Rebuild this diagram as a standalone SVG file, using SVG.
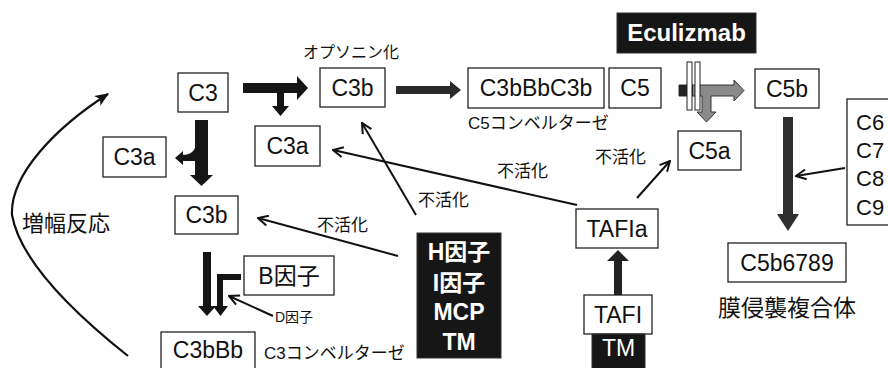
<svg xmlns="http://www.w3.org/2000/svg" width="888" height="368" viewBox="0 0 888 368">
<style>
text{font-family:"Liberation Sans","Noto Sans CJK JP",sans-serif;fill:#111}
.box{fill:#fff;stroke:#222;stroke-width:1.3}
.dark{fill:#161616;stroke:#333;stroke-width:1}
.bt{font-size:23px;text-anchor:middle}
.wb{font-size:23px;font-weight:bold;fill:#fff;text-anchor:middle}
.lab{font-size:17px}
.thin{fill:none;stroke:#111;stroke-width:2;marker-end:url(#v)}
.fat{fill:#151515}
</style>
<defs>
<marker id="v" viewBox="0 0 12 12" refX="11" refY="6" markerWidth="12" markerHeight="12" markerUnits="userSpaceOnUse" orient="auto">
<path d="M1,1 L11,6 L1,11" fill="none" stroke="#111" stroke-width="2"/>
</marker>
<marker id="h" viewBox="0 0 12 10" refX="11" refY="5" markerWidth="14" markerHeight="12" markerUnits="userSpaceOnUse" orient="auto">
<path d="M0,0 L12,5 L0,10 L3,5 Z" fill="#111"/>
</marker>
</defs>

<g id="connectors">
<path d="M128,356 C70,310 20,260 12,215 C10,175 55,128 108,94" fill="none" stroke="#111" stroke-width="2.2" marker-end="url(#h)"/>
<polygon class="fat" points="243,83 297,83 297,76 308,88 297,100 297,93 284,93 284,106 289,106 280.5,116 272,106 277,106 277,93 243,93"/>
<path class="fat" d="M195,120 L208,120 L208,175 L213,175 L201.5,186 L190,175 L195,175 L195,161 L183,161 L183,165 L175,158 L183,151 L183,155 Q192,155 195,148 Z"/>
<polygon fill="#2a2a2a" points="396,86 450,86 450,81 461,90 450,99 450,94 396,94"/>
<polygon fill="#8a8a8a" stroke="#333" stroke-width="1" points="679,85 734,85 734,80 744,90.5 734,101 734,96 711,96 711,112 716,112 706.5,122 697,112 702,112 702,96 679,96"/>
<rect x="679" y="85" width="14" height="11" fill="#222"/>
<rect x="687" y="62" width="5" height="48" fill="#fff" stroke="#222" stroke-width="1"/>
<rect x="695" y="62" width="5" height="48" fill="#fff" stroke="#222" stroke-width="1"/>
<polygon fill="#2e2e2e" points="783,117 793,117 793,214 799,214 788,231 777,214 783,214"/>
<polygon fill="#222" points="614,296 622,296 622,261 629,261 618,250 607,261 614,261"/>
<polygon class="fat" points="203,252 211,252 211,306 216,306 207,316 198,306 203,306"/>
<polygon class="fat" points="241,274 241,280 223,280 223,306 228,306 220.5,316 213,306 217,306 217,274"/>
<line class="thin" x1="577" y1="205" x2="333" y2="150"/>
<line class="thin" x1="637" y1="198" x2="670" y2="161"/>
<line class="thin" x1="416" y1="215" x2="362" y2="123"/>
<line class="thin" x1="398" y1="256" x2="258" y2="218"/>
<line class="thin" x1="273" y1="316" x2="229" y2="296"/>
<line class="thin" x1="845" y1="168" x2="796" y2="176"/>
</g>

<g id="labels">
<text class="lab" x="303" y="58" style="font-size:16px">オプソニン化</text>
<text class="lab" x="468" y="129">C5コンベルターゼ</text>
<text class="lab" x="264" y="359">C3コンベルターゼ</text>
<text x="275" y="322" style="font-size:14px">D因子</text>
<text class="lab" x="497" y="177">不活化</text>
<text class="lab" x="595" y="163">不活化</text>
<text class="lab" x="418" y="206">不活化</text>
<text class="lab" x="317" y="231">不活化</text>
<text x="22" y="231" style="font-size:22px">増幅反応</text>
<text x="718" y="316" style="font-size:23px">膜侵襲複合体</text>
</g>

<g id="n-eculizmab"><rect class="dark" x="617" y="13" width="139" height="40"/><text class="wb" x="686.5" y="41" style="font-size:24px">Eculizmab</text></g>
<g id="n-c3"><rect class="box" x="178" y="73" width="50" height="39"/><text class="bt" x="203" y="100.5">C3</text></g>
<g id="n-c3b-top"><rect class="box" x="320" y="68" width="65" height="39"/><text class="bt" x="352.5" y="95.5">C3b</text></g>
<g id="n-c3a-right"><rect class="box" x="255" y="126" width="65" height="40"/><text class="bt" x="287.5" y="154">C3a</text></g>
<g id="n-c3a-left"><rect class="box" x="103" y="137" width="63" height="40"/><text class="bt" x="134.5" y="165">C3a</text></g>
<g id="n-c3b-mid"><rect class="box" x="175" y="196" width="63" height="38"/><text class="bt" x="206.5" y="223">C3b</text></g>
<g id="n-bfactor"><rect class="box" x="244" y="256" width="90" height="39"/><text class="bt" x="289" y="284">B因子</text></g>
<g id="n-c3bbb"><rect class="box" x="161" y="332" width="94" height="40"/><text class="bt" x="208" y="358">C3bBb</text></g>
<g id="n-c3bbbc3b"><rect class="box" x="468" y="68" width="136" height="40"/><text class="bt" x="536" y="96">C3bBbC3b</text></g>
<g id="n-c5"><rect class="box" x="609" y="68" width="52" height="40"/><text class="bt" x="635" y="96">C5</text></g>
<g id="n-c5b"><rect class="box" x="755" y="69" width="64" height="39"/><text class="bt" x="787" y="96.5">C5b</text></g>
<g id="n-c5a"><rect class="box" x="678" y="131" width="63" height="39"/><text class="bt" x="709.5" y="158.5">C5a</text></g>
<g id="n-c6789"><rect class="box" x="847" y="99" width="60" height="126"/>
<text x="856" y="130" style="font-size:22px">C6</text><text x="856" y="158" style="font-size:22px">C7</text><text x="856" y="186" style="font-size:22px">C8</text><text x="856" y="215" style="font-size:22px">C9</text></g>
<g id="n-c5b6789"><rect class="box" x="728" y="243" width="118" height="39"/><text class="bt" x="787" y="270.5">C5b6789</text></g>
<g id="n-tafia"><rect class="box" x="576" y="209" width="82" height="39"/><text class="bt" x="617" y="236.5">TAFIa</text></g>
<g id="n-tafi"><rect class="box" x="584" y="295" width="68" height="39"/><text class="bt" x="618" y="322.5">TAFI</text></g>
<g id="n-tm"><rect class="dark" x="592" y="334" width="53" height="38"/><text class="bt" x="618.5" y="356" style="fill:#fff">TM</text></g>
<g id="n-regulators"><rect class="dark" x="417" y="233" width="84" height="125"/>
<text class="wb" x="459" y="260">H因子</text><text class="wb" x="459" y="291">I因子</text><text class="wb" x="459" y="320">MCP</text><text class="wb" x="459" y="350">TM</text></g>
</svg>
